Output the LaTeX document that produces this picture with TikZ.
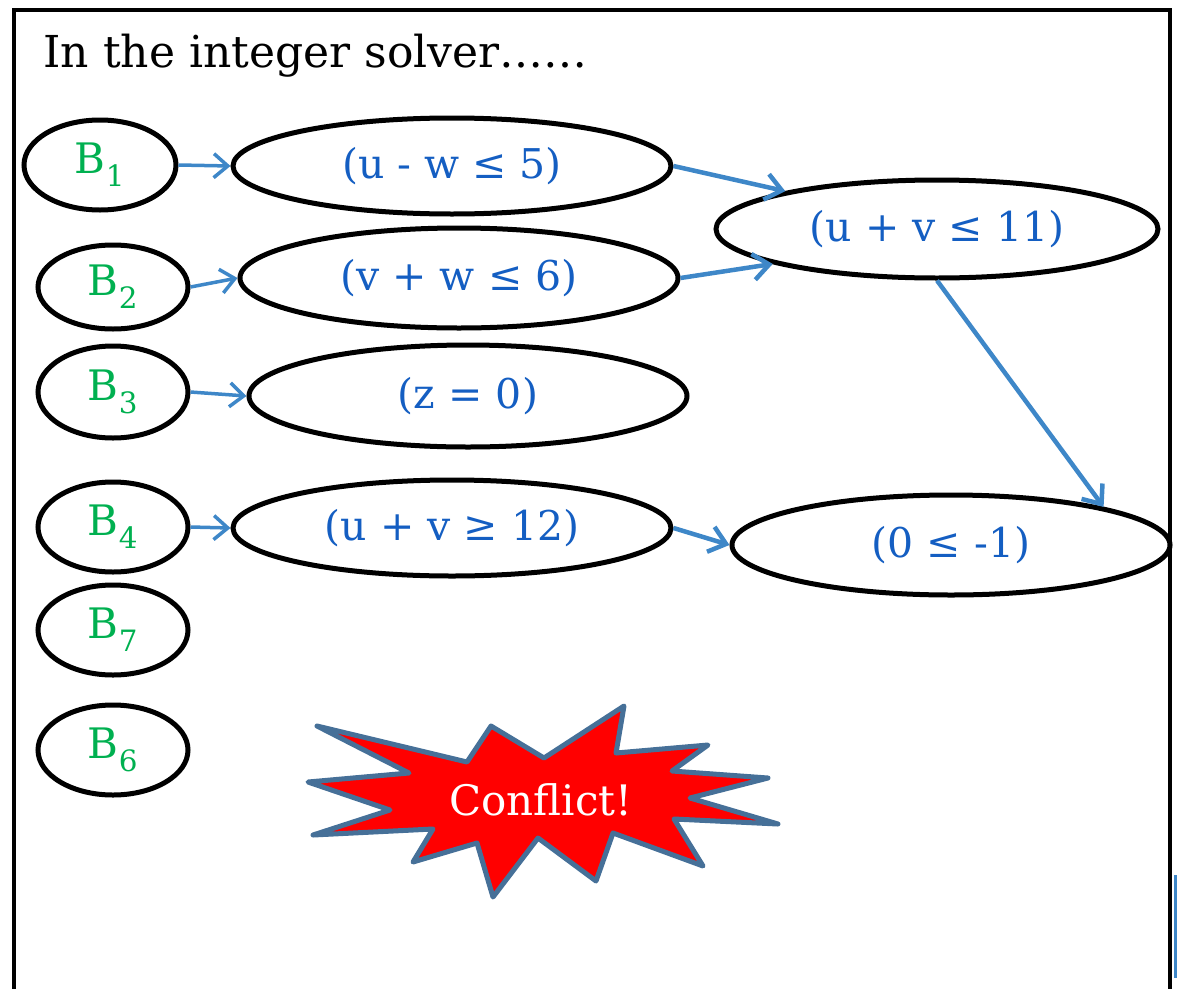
\documentclass[tikz,border=0pt]{standalone}
\usepackage{fontspec}
\setmainfont{DejaVu Serif}
\usetikzlibrary{shapes.geometric,arrows.meta}
\definecolor{arrowblue}{RGB}{62,135,200}
\definecolor{txtblue}{RGB}{20,94,194}
\definecolor{bgreen}{RGB}{0,176,80}
\definecolor{starline}{RGB}{70,112,152}
\tikzset{
  bnode/.style={draw=black, line width=5pt, ellipse, inner sep=0pt, minimum width=150pt, minimum height=90pt, text=bgreen, font=\fontsize{42}{46}\selectfont},
  cnode/.style={draw=black, line width=5pt, ellipse, inner sep=0pt, minimum width=438pt, minimum height=96pt, text=txtblue, font=\fontsize{41}{45}\selectfont},
  thinarrow/.style={draw=arrowblue, line width=3.5pt, -{Straight Barb[length=14pt,width=24pt]}},
  thickarrow/.style={draw=arrowblue, line width=4.5pt, -{Straight Barb[length=16pt,width=26pt]}},
}
\newcommand{\lowtxt}[1]{\raisebox{-4pt}{#1}}
\begin{document}
\begin{tikzpicture}[x=1pt,y=-1pt]
\useasboundingbox (0,0) rectangle (1177,988);
\begin{scope}
\clip (0,0) rectangle (1177,988);
\draw[line width=4.5pt] (14,1000) -- (14,10) -- (1170,10) -- (1170,1000);
\end{scope}
\draw[arrowblue, line width=3pt] (1175.5,875) -- (1175.5,978);

\node[anchor=base west, font=\fontsize{44}{48}\selectfont] (title) at (40,67) {In the integer solver……};

\node[bnode, minimum width=152pt] (b1) at (100,165) {\lowtxt{B\textsubscript{1}}};
\node[bnode, minimum height=84pt] (b2) at (113,287) {\lowtxt{B\textsubscript{2}}};
\node[bnode, minimum height=92pt] (b3) at (113,392) {\lowtxt{B\textsubscript{3}}};
\node[bnode] (b4) at (113,527) {\lowtxt{B\textsubscript{4}}};
\node[bnode] (b7) at (113,630) {\lowtxt{B\textsubscript{7}}};
\node[bnode] (b6) at (113,750) {\lowtxt{B\textsubscript{6}}};

\node[cnode] (c1) at (452,166) {\lowtxt{(u - w ≤ 5)}};
\node[cnode, minimum height=100pt] (c2) at (459,278) {\lowtxt{(v + w ≤ 6)}};
\node[cnode, minimum height=102pt] (c5) at (468,396) {\lowtxt{(z = 0)}};
\node[cnode] (c4) at (452,528) {\lowtxt{(u + v ≥ 12)}};
\node[cnode, minimum width=442pt, minimum height=98pt] (c3) at (937,229) {\lowtxt{(u + v ≤ 11)}};
\node[cnode, minimum height=100pt] (c6) at (951,545) {\lowtxt{(0 ≤ -1)}};

\draw[thinarrow] (b1.east) -- (c1.west);
\draw[thinarrow] (b2.east) -- (c2.west);
\draw[thinarrow] (b3.east) -- (c5.west);
\draw[thinarrow] (b4.east) -- (c4.west);
\draw[thickarrow] (c1.east) -- (c3.166);
\draw[thickarrow] (c2.east) -- (c3.192);
\draw[thickarrow] (c3.south) -- (c6.14);
\draw[thickarrow] (c4.east) -- (c6.west);

\draw[fill=red, draw=starline, line width=5pt, line join=round]
  (317,726) -- (467,762) -- (491,726) -- (544,758) -- (624,706) -- (616,753)
  -- (708,745) -- (672,771) -- (768,778) -- (690,798) -- (778,824) -- (674,819)
  -- (703,866) -- (613,833) -- (596,881) -- (538,838) -- (493,897) -- (477,843)
  -- (413,862) -- (433,829) -- (313,835) -- (390,810) -- (308,782) -- (409,773) -- cycle;
\node[text=white, font=\fontsize{42}{46}\selectfont] (conflict) at (541,800) {Conflict!};
\end{tikzpicture}
\end{document}
